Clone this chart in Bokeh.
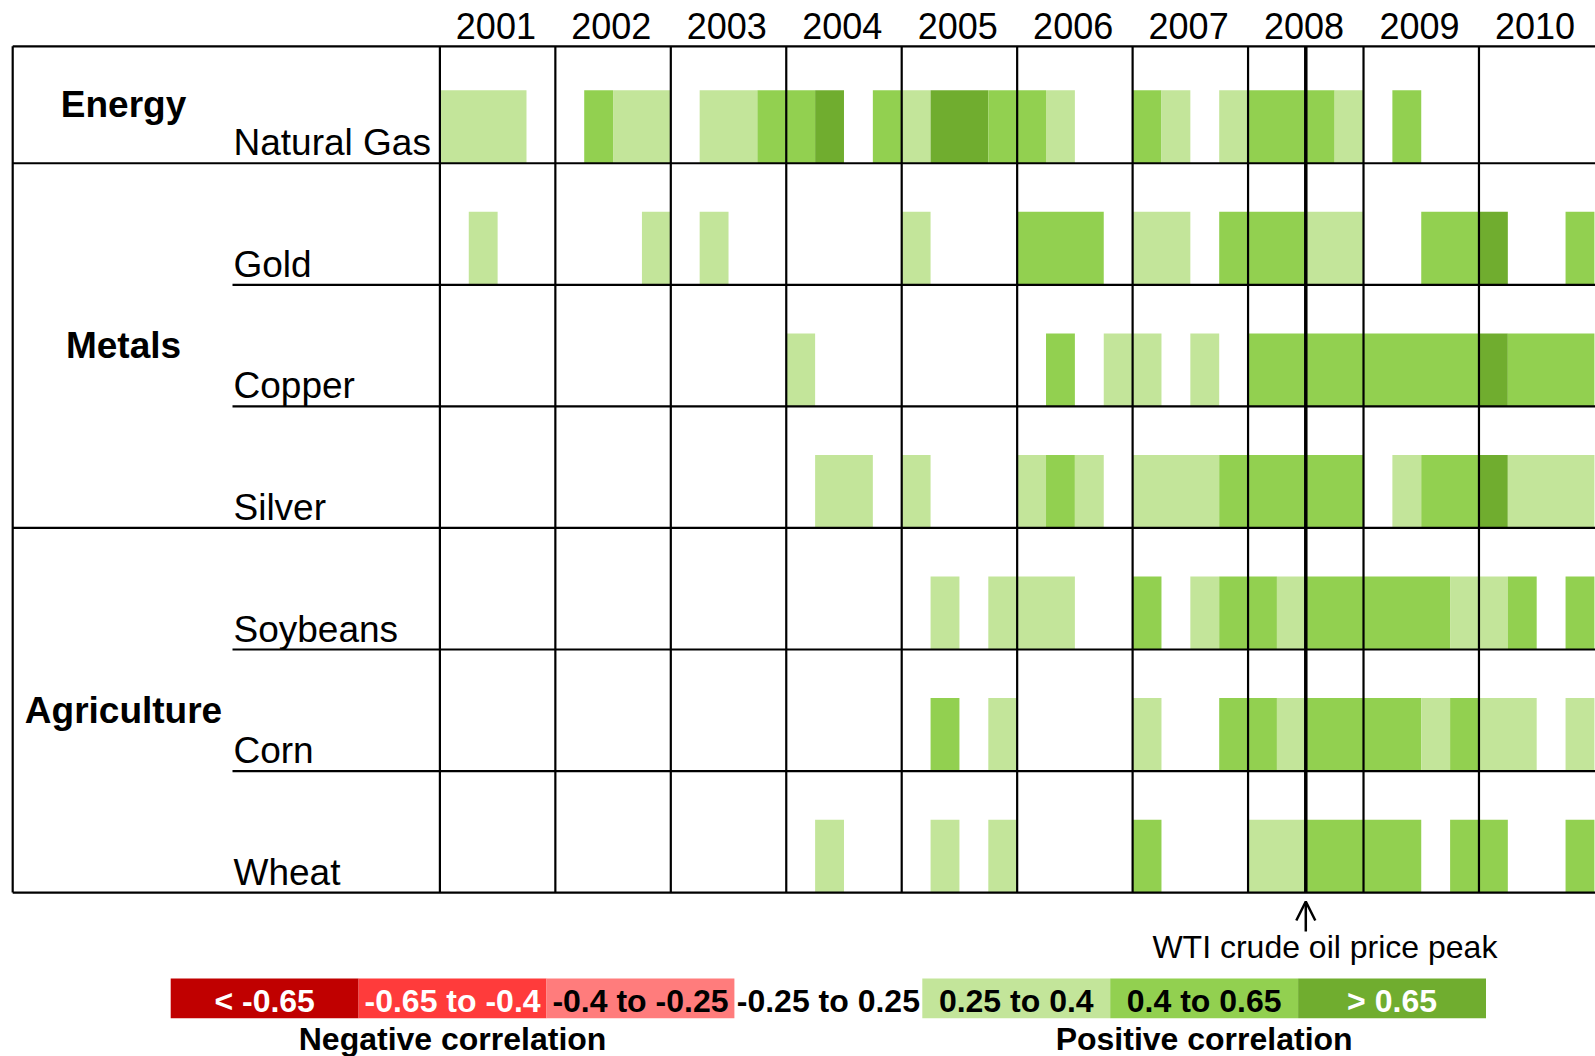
from bokeh.plotting import figure
from bokeh.models import Range1d, Arrow, OpenHead
from bokeh.core.properties import value
from bokeh.embed import file_html
from bokeh.resources import INLINE

# ---------------- data ----------------
years = ["2001", "2002", "2003", "2004", "2005", "2006", "2007", "2008", "2009", "2010"]
groups = ["Energy", "Metals", "Agriculture"]
group_first_row = [0, 1, 4]
group_last_row = [0, 3, 6]
commodities = ["Natural Gas", "Gold", "Copper", "Silver", "Soybeans", "Corn", "Wheat"]

# quarterly correlation class: 0 = -0.25..0.25, 1 = 0.25..0.4, 2 = 0.4..0.65, 3 = >0.65
natural_gas = [1,1,1,0, 0,2,1,1, 0,1,1,2, 2,3,0,2, 1,3,3,2, 2,1,0,0, 2,1,0,1, 2,2,2,1, 0,2,0,0, 0,0,0,0]
gold        = [0,1,0,0, 0,0,0,1, 0,1,0,0, 0,0,0,0, 1,0,0,0, 2,2,2,0, 1,1,0,2, 2,2,1,1, 0,0,2,2, 3,0,0,2]
copper      = [0,0,0,0, 0,0,0,0, 0,0,0,0, 1,0,0,0, 0,0,0,0, 0,2,0,1, 1,0,1,0, 2,2,2,2, 2,2,2,2, 3,2,2,2]
silver      = [0,0,0,0, 0,0,0,0, 0,0,0,0, 0,1,1,0, 1,0,0,0, 1,2,1,0, 1,1,1,2, 2,2,2,2, 0,1,2,2, 3,1,1,1]
soybeans    = [0,0,0,0, 0,0,0,0, 0,0,0,0, 0,0,0,0, 0,1,0,1, 1,1,0,0, 2,0,1,2, 2,1,2,2, 2,2,2,1, 1,2,0,2]
corn        = [0,0,0,0, 0,0,0,0, 0,0,0,0, 0,0,0,0, 0,2,0,1, 0,0,0,0, 1,0,0,2, 2,1,2,2, 2,2,1,2, 1,1,0,1]
wheat       = [0,0,0,0, 0,0,0,0, 0,0,0,0, 0,1,0,0, 0,1,0,1, 0,0,0,0, 2,0,0,0, 1,1,2,2, 2,2,0,2, 2,0,0,2]
series = [natural_gas, gold, copper, silver, soybeans, corn, wheat]

level_colors = {1: "#C3E59A", 2: "#92D050", 3: "#70AD2F"}

oil_peak_quarter = 30  # July 2008
oil_peak_label = "WTI crude oil price peak"

legend_labels = ["< -0.65", "-0.65 to -0.4", "-0.4 to -0.25", "-0.25 to 0.25",
                 "0.25 to 0.4", "0.4 to 0.65", "> 0.65"]
legend_colors = ["#C00000", "#FF3B3B", "#FF7C7C", None, "#C3E59A", "#92D050", "#70AD2F"]
legend_text_colors = ["white", "white", "black", "black", "black", "black", "white"]
legend_titles = ["Negative correlation", "Positive correlation"]

# ---------------- geometry (screen px -> data units) ----------------
W, H = 1595, 1056
QX0, QW = 439.4, 28.863       # screen x of quarter 0, px per quarter
RY0, RH = 41.19, 121.56       # screen y of row 0 top, px per row

def X(sx):
    return (sx - QX0) / QW

def Y(sy):
    return (sy - RY0) / RH

def YB(baseline, fs):
    # anchor (middle) for a text whose baseline should sit at screen y = baseline
    return Y(baseline - 0.35 * fs)

FONT = value("Liberation Sans")

p = figure(width=W, height=H, output_backend="svg", toolbar_location=None,
           x_range=Range1d(X(0), X(W)),
           y_range=Range1d(Y(H), Y(0)),
           x_axis_type=None, y_axis_type=None, min_border=0,
           outline_line_color=None, background_fill_color="white")
p.grid.visible = False

# ---------------- cells (consecutive equal classes merged) ----------------
left, right, top, bottom, colors = [], [], [], [], []
for i, vals in enumerate(series):
    q = 0
    while q < len(vals):
        v = vals[q]
        e = q
        while e + 1 < len(vals) and vals[e + 1] == v:
            e += 1
        if v > 0:
            left.append(q)
            right.append(e + 1)
            top.append(i + 0.4)
            bottom.append(i + 1)
            colors.append(level_colors[v])
        q = e + 1
p.quad(left=left, right=right, top=top, bottom=bottom, fill_color=colors, line_color=None)

# ---------------- grid lines ----------------
top_r = Y(45.8)
x_left = X(12.2)
x_sub = X(232)
x_end = X(W) + 1
n_rows = len(commodities)

hx0, hx1, hy = [x_left], [x_end], [top_r]
for i in range(1, n_rows + 1):
    full = (i == n_rows) or (i in group_first_row)
    hx0.append(x_left if full else x_sub)
    hx1.append(x_end)
    hy.append(i)
p.segment(x0=hx0, y0=hy, x1=hx1, y1=hy, line_color="black", line_width=2.2)

vx = [x_left] + [k * 4 for k in range(len(years))]
p.segment(x0=vx, y0=[top_r] * len(vx), x1=vx, y1=[n_rows] * len(vx),
          line_color="black", line_width=2.2)
p.segment(x0=[oil_peak_quarter], y0=[top_r], x1=[oil_peak_quarter], y1=[n_rows],
          line_color="black", line_width=3.5)

# ---------------- texts ----------------
p.text(x=[k * 4 + 1.94 for k in range(len(years))], y=[YB(37.8, 36)] * len(years), text=years,
       text_font=FONT, text_font_size="36px", text_align="center",
       text_baseline="middle", text_color="black")

p.text(x=[X(233)] * n_rows, y=[Y(RY0 + (i + 1) * RH - 7.5 - 0.35 * 37) for i in range(n_rows)],
       text=commodities, text_font=FONT, text_font_size="37px", text_align="left",
       text_baseline="middle", text_color="black")

gy = []
for a, b in zip(group_first_row, group_last_row):
    c = (a + b + 1) / 2.0
    if a == 0:
        c = (top_r + 1) / 2.0
    gy.append(c + (12.8 - 0.35 * 37) / RH)
p.text(x=[X(123)] * len(groups), y=gy, text=groups,
       text_font=FONT, text_font_size="37px", text_font_style="bold", text_align="center",
       text_baseline="middle", text_color="black")

p.add_layout(Arrow(end=OpenHead(size=19, line_width=2.5, line_color="black"),
                   x_start=oil_peak_quarter, y_start=Y(931), x_end=oil_peak_quarter, y_end=Y(901),
                   line_width=2.5, line_color="black"))
p.text(x=[X(1324.4)], y=[YB(958, 32)], text=[oil_peak_label],
       text_font=FONT, text_font_size="32px", text_align="center",
       text_baseline="middle", text_color="black")

# ---------------- legend ----------------
LX0, LW = 170.2, 187.9
n_leg = len(legend_labels)
l_left = [X(LX0 + k * LW) for k in range(n_leg)]
l_right = [X(LX0 + (k + 1) * LW) for k in range(n_leg)]
fills = [c if c is not None else "white" for c in legend_colors]
alphas = [1.0 if c is not None else 0.0 for c in legend_colors]
p.quad(left=l_left, right=l_right, top=[Y(978)] * n_leg, bottom=[Y(1017.7)] * n_leg,
       fill_color=fills, fill_alpha=alphas, line_color=None)
p.text(x=[(a + b) / 2 for a, b in zip(l_left, l_right)], y=[YB(1011.5, 32)] * n_leg,
       text=legend_labels, text_color=legend_text_colors,
       text_font=FONT, text_font_size="32px", text_font_style="bold",
       text_align="center", text_baseline="middle")
p.text(x=[(l_left[0] + l_right[2]) / 2, (l_left[4] + l_right[6]) / 2], y=[YB(1050, 32)] * 2,
       text=legend_titles, text_font=FONT, text_font_size="32px", text_font_style="bold",
       text_align="center", text_baseline="middle", text_color="black")

open("out.html", "w").write(file_html(p, INLINE))
